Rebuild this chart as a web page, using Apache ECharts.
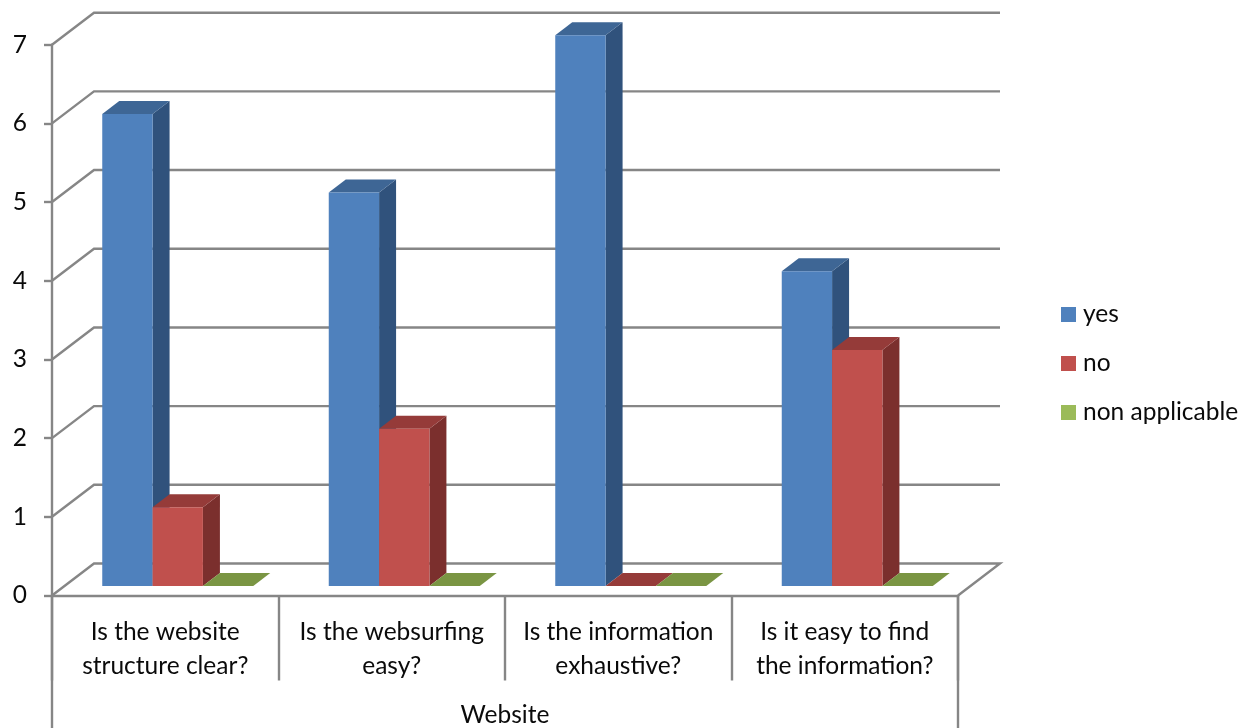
<!DOCTYPE html>
<html>
<head>
<meta charset="utf-8">
<style>html,body{margin:0;padding:0;background:#fff;overflow:hidden}#c{width:1241px;height:728px}</style>
<script src="https://cdn.jsdelivr.net/npm/echarts@6/dist/echarts.min.js"></script>
</head>
<body>
<div id="c"></div>
<script>
var categories = ['Is the website\nstructure clear?', 'Is the websurfing\neasy?', 'Is the information\nexhaustive?', 'Is it easy to find\nthe information?'];
var groupLabels = ['Website'];
var yesValues = [6, 5, 7, 4];
var noValues = [1, 2, 0, 3];
var naValues = [0, 0, 0, 0];
var yTicks = [0, 1, 2, 3, 4, 5, 6, 7];
var seriesNames = ['yes', 'no', 'non applicable'];

var FONT = 'Lato';
var FS = 24.5;
var TXT = '#0a0a0a', LINE = '#868686', LW = 2.4;
var WALL_DX = 42, WALL_DY = 32;     // wall depth
var FRONT_DX = 12.5, FRONT_DY = 9.5; // front of bars from the axis plane
var BAR_DX = 17, BAR_DY = 13;       // bar depth
var palette = [
  {front: '#4F81BD', top: '#3E6695', side: '#30527C'},
  {front: '#C0504D', top: '#953B39', side: '#7B2F2D'},
  {front: '#9BBB59', top: '#7A9543', side: '#62783A'}
];

function barRender(si) {
  return function (params, api) {
    var cat = api.value(0), val = api.value(1);
    var base = api.coord([cat, 0]), topPt = api.coord([cat, val]);
    var bw = api.size([1, 0])[0] / 4.5;
    var x0 = base[0] + FRONT_DX + (si - 1.5) * bw, x1 = x0 + bw;
    var yb = base[1] - FRONT_DY, yt = topPt[1] - FRONT_DY;
    var c = palette[si];
    function poly(pts, fill) {
      return {type: 'polygon', shape: {points: pts}, style: {fill: fill}};
    }
    return {type: 'group', children: [
      poly([[x1, yb], [x1 + BAR_DX, yb - BAR_DY], [x1 + BAR_DX, yt - BAR_DY], [x1, yt]], c.side),
      poly([[x0, yt], [x0 + BAR_DX, yt - BAR_DY], [x1 + BAR_DX, yt - BAR_DY], [x1, yt]], c.top),
      poly([[x0, yb], [x1, yb], [x1, yt], [x0, yt]], c.front)
    ]};
  };
}

function wallRender(params, api) {
  var v = api.value(1), cs = params.coordSys;
  var y = api.coord([0, v])[1];
  var l = cs.x, r = cs.x + cs.width;
  var pts = [[l, y], [l + WALL_DX, y - WALL_DY], [r + WALL_DX, y - WALL_DY]];
  if (v === 0) pts.push([r, y]);
  return {type: 'polyline', shape: {points: pts}, style: {fill: 'none', stroke: LINE, lineWidth: LW}};
}

function pairs(arr) { return arr.map(function (v, i) { return [i, v]; }); }

var chart = echarts.init(document.getElementById('c'), null, {renderer: 'canvas'});
chart.setOption({
  animation: false,
  backgroundColor: '#fff',
  textStyle: {fontFamily: FONT},
  grid: {left: 52, right: 283, top: 44.7, bottom: 132.5, containLabel: false},
  legend: {
    orient: 'vertical', left: 1056, top: 297,
    data: seriesNames, icon: 'rect', itemWidth: 15, itemHeight: 15, itemGap: 24,
    selectedMode: false,
    textStyle: {fontFamily: FONT, fontSize: FS, color: TXT, padding: [0, 0, 0, 2]}
  },
  xAxis: [{
    type: 'category', data: categories, position: 'bottom',
    axisLine: {lineStyle: {color: LINE, width: LW}},
    axisTick: {show: true, length: 85, lineStyle: {color: LINE, width: LW}},
    axisLabel: {color: TXT, fontFamily: FONT, fontSize: FS, lineHeight: 34, margin: 19.5, interval: 0},
    splitLine: {show: false}
  }, {
    type: 'category', data: groupLabels, position: 'bottom',
    axisLine: {show: false},
    axisTick: {show: true, length: 133, lineStyle: {color: LINE, width: LW}},
    axisLabel: {color: TXT, fontFamily: FONT, fontSize: FS, margin: 107.5},
    splitLine: {show: false}
  }],
  yAxis: {
    type: 'value', min: 0, max: 7, interval: 1,
    axisLine: {show: true, lineStyle: {color: LINE, width: LW}},
    axisTick: {show: true, length: 8, lineStyle: {color: LINE, width: LW}},
    axisLabel: {color: TXT, fontFamily: FONT, fontSize: FS, margin: 25, padding: [3, 0, 0, 0]},
    splitLine: {show: false}
  },
  series: [
    {type: 'custom', name: 'walls', silent: true, clip: false, z: 1, renderItem: wallRender,
      encode: {x: 0, y: 1}, data: yTicks.map(function (v) { return [0, v]; })},
    {type: 'custom', name: seriesNames[0], clip: false, z: 2, renderItem: barRender(0),
      itemStyle: {color: palette[0].front}, encode: {x: 0, y: 1}, data: pairs(yesValues)},
    {type: 'custom', name: seriesNames[1], clip: false, z: 3, renderItem: barRender(1),
      itemStyle: {color: palette[1].front}, encode: {x: 0, y: 1}, data: pairs(noValues)},
    {type: 'custom', name: seriesNames[2], clip: false, z: 4, renderItem: barRender(2),
      itemStyle: {color: palette[2].front}, encode: {x: 0, y: 1}, data: pairs(naValues)}
  ]
});
</script>
</body>
</html>
